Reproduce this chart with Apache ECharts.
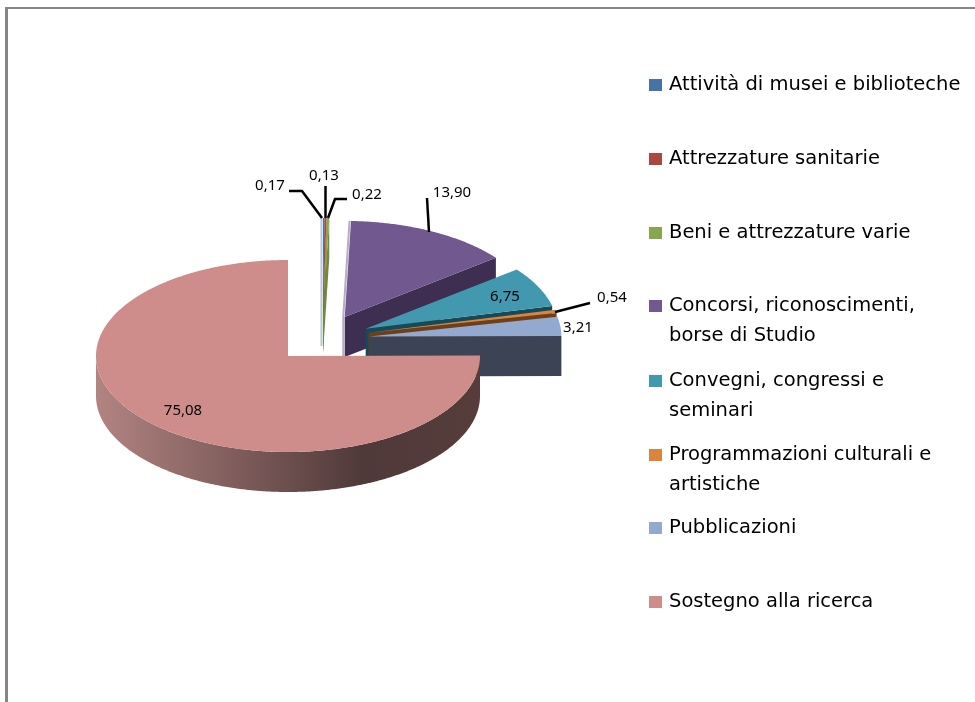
<!DOCTYPE html>
<html>
<head>
<meta charset="utf-8">
<style>
  html, body { margin: 0; padding: 0; background: #fff; }
  #chart { width: 975px; height: 702px; }
</style>
<script src="https://cdn.jsdelivr.net/npm/echarts@6/dist/echarts.min.js"></script>
</head>
<body>
<div id="chart"></div>
<script>
// data
var categories = [
  'Attività di musei e biblioteche',
  'Attrezzature sanitarie',
  'Beni e attrezzature varie',
  'Concorsi, riconoscimenti,\nborse di Studio',
  'Convegni, congressi e\nseminari',
  'Programmazioni culturali e\nartistiche',
  'Pubblicazioni',
  'Sostegno alla ricerca'
]
var values = [0.13, 0.17, 0.22, 13.90, 6.75, 0.54, 3.21, 75.08]

// colours
var topColors = ['#4573A7', '#AA4643', '#89A54E', '#71588F', '#4198AF', '#DB843D', '#93A9CF', '#CE8D8B']
var sideColors = ['#2E4C6E', '#702E2C', '#6F8A3C', '#3E2E51', '#164A58', '#6E3F18', '#3B4354', '#523A3A']
// pale edge the reference shows on the left of some slices, and how far down it runs
var fringeColors = ['#B9C6D8', null, null, '#B5ACC6', null, null, null, null]
var fringeDepth = [32, 0, 0, 40, 0, 0, 0, 0]

// pie layout
var cx = 288, cy = 356, rx = 192, ry = 96, depth = 40
// explosion of each slice: direction (deg, clockwise from top) and size (share of radius)
var explodeDir = [22.6, 22.6, 22.6, 36, 55, 60, 64.4, 0]
var explodeSize = [0.474, 0.474, 0.474, 0.503, 0.494, 0.485, 0.47, 0]

// where the value labels and their leader lines sit
var labelPos = [[324, 176], [270, 186], [367, 195], [452, 193], [505, 297], [612, 298], [578, 328], [183, 411]]
var leaders = [
  [[325.5, 186], [325.5, 218]],
  [[289, 191], [302, 191], [322, 218]],
  [[347, 199], [335, 199], [328, 218]],
  [[427, 198], [429, 232]],
  null,
  [[555, 312], [590, 303]],
  null,
  null
]
var legendY = [85, 159, 233, 306, 381, 455, 528, 602]

var total = values.reduce(function (a, b) { return a + b }, 0)
var rad = Math.PI / 180

function formatValue (v) {
  return v.toFixed(2).replace('.', ',')
}

function arcPoints (ox, oy, from, to, dy) {
  var pts = []
  var steps = Math.max(2, Math.ceil((to - from) * 2))
  for (var i = 0; i <= steps; i++) {
    var t = (from + (to - from) * i / steps) * rad
    pts.push([ox + rx * Math.sin(t), oy - ry * Math.cos(t) + dy])
  }
  return pts
}

function cutFace (ox, oy, t, color) {
  var x = ox + rx * Math.sin(t * rad)
  var y = oy - ry * Math.cos(t * rad)
  return {
    type: 'polygon',
    shape: { points: [[ox, oy], [x, y], [x, y + depth], [ox, oy + depth]] },
    style: { fill: color }
  }
}

function wallFill (index) {
  // only the big slice shows a lit wall
  if (index !== 7) return sideColors[index]
  return new echarts.graphic.LinearGradient(0, 0, 1, 0, [
    { offset: 0, color: '#B28482' },
    { offset: 0.695, color: '#503939' },
    { offset: 1, color: '#563D3C' }
  ])
}

function drawSlice (index, color) {
  var before = values.slice(0, index).reduce(function (a, b) { return a + b }, 0)
  var t1 = before / total * 360
  var t2 = (before + values[index]) / total * 360
  var ox = cx + explodeSize[index] * rx * Math.sin(explodeDir[index] * rad)
  var oy = cy - explodeSize[index] * ry * Math.cos(explodeDir[index] * rad)
  var children = []

  if (fringeColors[index]) {
    var edgeX = ox + rx * Math.sin(t1 * rad)
    var edgeY = oy - ry * Math.cos(t1 * rad)
    children.push({
      type: 'polyline',
      shape: { points: [[ox - 1.5, oy + fringeDepth[index]], [ox - 1.5, oy], [edgeX - 1.5, edgeY]] },
      style: { stroke: fringeColors[index], lineWidth: 2, fill: null }
    })
  }

  // faces seen by the viewer, back to front
  if (Math.sin(t1 * rad) < 0) children.push(cutFace(ox, oy, t1, sideColors[index]))
  if (Math.sin(t2 * rad) > 0) children.push(cutFace(ox, oy, t2, sideColors[index]))
  var wallFrom = Math.max(t1, 90)
  var wallTo = Math.min(t2, 270)
  if (wallTo > wallFrom) {
    var wall = arcPoints(ox, oy, wallFrom, wallTo, 0).concat(arcPoints(ox, oy, wallFrom, wallTo, depth).reverse())
    children.push({ type: 'polygon', shape: { points: wall }, style: { fill: wallFill(index) } })
  }
  children.push({
    type: 'polygon',
    shape: { points: [[ox, oy]].concat(arcPoints(ox, oy, t1, t2, 0)) },
    style: { fill: color }
  })

  if (leaders[index]) {
    children.push({
      type: 'polyline',
      shape: { points: leaders[index] },
      style: { stroke: '#000', lineWidth: 2.5, fill: null }
    })
  }
  children.push({
    type: 'text',
    style: {
      text: formatValue(values[index]),
      x: labelPos[index][0],
      y: labelPos[index][1],
      align: 'center',
      verticalAlign: 'middle',
      fontFamily: 'Noto Sans',
      fontSize: 15,
      fill: '#000'
    }
  })
  return { type: 'group', children: children }
}

var seriesList = categories.map(function (name, i) {
  return {
    name: name,
    type: 'custom',
    coordinateSystem: 'none',
    silent: true,
    z: i + 2,
    data: [[values[i]]],
    renderItem: function (params, api) {
      return drawSlice(i, api.visual('color'))
    }
  }
})

var legends = categories.map(function (name, i) {
  var twoLines = name.indexOf('\n') >= 0
  return {
    left: 649,
    top: legendY[i] - (twoLines ? 45 : 15),
    orient: 'vertical',
    icon: 'rect',
    itemWidth: 13,
    itemHeight: 12,
    selectedMode: false,
    data: [name],
    padding: 0,
    // a blank first line keeps the square level with the first line of text
    formatter: function (n) { return twoLines ? '\n' + n : n },
    textStyle: {
      fontFamily: 'DejaVu Sans',
      fontSize: 19.5,
      lineHeight: 30,
      color: '#000',
      padding: [0, 0, 0, 2]
    }
  }
})

var myChart = echarts.init(document.getElementById('chart'))
myChart.setOption({
  animation: false,
  backgroundColor: '#fff',
  color: topColors,
  legend: legends,
  graphic: [
    { type: 'rect', shape: { x: 5, y: 7, width: 970, height: 2 }, style: { fill: '#868686' } },
    { type: 'rect', shape: { x: 5, y: 7, width: 3, height: 695 }, style: { fill: '#868686' } }
  ],
  series: seriesList
})
</script>
</body>
</html>
